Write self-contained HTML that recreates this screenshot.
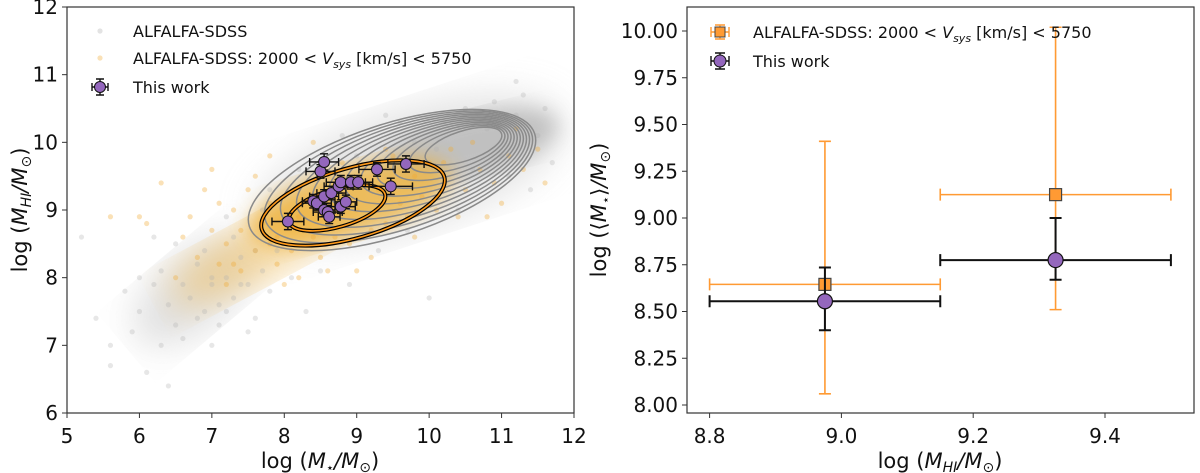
<!DOCTYPE html>
<html><head><meta charset="utf-8"><style>
body{margin:0;background:#fff}
svg{display:block;font-family:"DejaVu Sans","Liberation Sans",sans-serif}
</style></head><body>
<svg id="c" width="1200" height="473" viewBox="0 0 1200 473"></svg>
<script>
const NS="http://www.w3.org/2000/svg";
// ---- left panel data ----
const grayX=[5.2,5.4,5.6,5.8,5.9,6.0,6.1,6.2,6.3,6.4,6.5,6.6,6.7,6.8,6.9,7.0,7.1,7.2,7.3,7.4,6.6,6.9,7.1,7.3,7.5,7.6,7.7,7.8,6.8,7.0,7.2,7.4,6.3,6.5,7.6,7.9,8.1,8.3,8.5,8.9,9.3,9.7,10.1,10.5,10.9,11.2,11.5,11.7,11.0,10.6,10.2,9.8,11.3,11.6,10.8,11.1,7.0,7.5,6.0,8.8,9.6,10.4,11.4,5.6,7.8,8.2,6.4,9.0,8.0,7.2,6.2,7.7,10.0,11.2,9.4];
const grayY=[8.6,7.4,7.0,7.8,7.2,7.5,6.6,7.9,8.1,7.6,7.3,7.9,7.7,8.2,7.5,7.9,7.6,8.0,7.7,8.3,7.1,8.4,7.3,8.6,7.9,8.4,8.1,7.8,7.4,8.0,7.5,7.9,7.0,8.5,7.4,8.4,8.0,7.5,8.1,7.9,8.4,8.7,9.9,10.5,10.6,10.4,10.1,9.7,9.8,9.6,10.3,10.0,10.7,10.5,10.2,9.5,7.0,7.2,8.0,10.1,10.3,9.0,9.3,6.7,9.3,9.6,6.4,9.8,8.8,8.9,8.6,9.0,7.7,10.9,10.4];
const orangeX=[6.7,6.9,7.0,7.1,7.2,7.3,7.4,7.5,7.6,7.7,7.8,7.9,8.0,8.1,8.2,8.3,8.4,8.5,8.6,8.7,8.8,8.9,9.0,9.1,9.2,9.3,9.4,9.5,9.6,9.7,9.8,9.9,10.0,10.1,10.2,10.3,10.5,10.7,10.9,11.1,11.3,11.5,11.6,6.5,6.8,7.2,7.4,7.0,7.6,8.0,8.6,9.2,9.8,10.4,11.0,6.3,6.1,7.8,8.4,9.4,10.6,11.2,7.1,7.9,8.7,9.5,10.2,6.0,5.6,9.0,8.2,10.8,6.6,7.3,7.8];
const orangeY=[8.9,9.3,8.7,9.1,8.5,9.0,8.7,9.3,8.4,8.8,9.1,8.6,9.2,8.4,8.9,9.4,8.6,8.3,9.5,8.6,9.7,8.5,9.0,9.6,8.7,9.3,8.8,9.8,9.1,8.9,9.5,9.2,9.7,9.0,9.4,9.9,9.3,9.6,9.4,9.8,9.6,9.9,9.4,8.0,8.3,7.9,8.1,9.6,9.5,7.9,8.1,8.3,8.6,8.9,9.1,9.4,8.8,9.8,10.0,9.9,10.0,10.2,8.2,8.2,9.1,9.4,9.7,8.9,8.9,8.1,8.0,8.9,8.6,8.2,8.5];
const workX=[8.05,8.5,8.55,8.4,8.45,8.55,8.65,8.55,8.6,8.62,8.78,8.85,8.75,8.78,8.92,9.02,9.28,9.47,9.68];
const workY=[8.83,9.57,9.71,9.13,9.1,9.2,9.25,9.0,8.97,8.9,9.05,9.12,9.35,9.41,9.41,9.41,9.6,9.35,9.68];
const workXerr=[0.22,0.2,0.2,0.15,0.2,0.2,0.2,0.15,0.2,0.15,0.2,0.15,0.2,0.2,0.2,0.2,0.25,0.3,0.25];
const workYerr=[0.12,0.1,0.12,0.1,0.1,0.1,0.1,0.1,0.1,0.1,0.1,0.1,0.1,0.1,0.1,0.1,0.1,0.12,0.12];
const leftXTicks=[5,6,7,8,9,10,11,12];
const leftYTicks=[6,7,8,9,10,11,12];
// ---- right panel data ----
const binX=[8.975,9.325];
const binXlo=[8.8,9.15];
const binXhi=[9.15,9.5];
const alfY=[8.645,9.125];
const alfYlo=[8.06,8.51];
const alfYhi=[9.41,10.02];
const workBinY=[8.555,8.775];
const workBinYlo=[8.40,8.67];
const workBinYhi=[8.735,9.00];
const rightXTicks=[8.8,9.0,9.2,9.4];
const rightYTicks=[8.00,8.25,8.50,8.75,9.00,9.25,9.50,9.75,10.00];

const svg=document.getElementById('c');
function el(tag,attrs,parent,text){const e=document.createElementNS(NS,tag);for(const k in attrs)e.setAttribute(k,attrs[k]);if(text!==undefined)e.textContent=text;(parent||svg).appendChild(e);return e;}

const L={x0:67,x1:574,y0:413,y1:7,xmin:5,xmax:12,ymin:6,ymax:12};
const lx=v=>L.x0+(v-L.xmin)/(L.xmax-L.xmin)*(L.x1-L.x0);
const ly=v=>L.y0-(v-L.ymin)/(L.ymax-L.ymin)*(L.y0-L.y1);
const rx=v=>709.6+(v-8.8)/0.6*(1105-709.6);
const ry=v=>405-(v-8)/2*(405-31);

const gL=el('g',{});

el('defs',{},svg).innerHTML='<clipPath id="clipL"><rect x="67" y="7" width="507" height="406"/></clipPath><filter id="bl"><feGaussianBlur stdDeviation="10"/></filter><filter id="bl2"><feGaussianBlur stdDeviation="18"/></filter>';
const plotL=el('g',{'clip-path':'url(#clipL)'},gL);
// density haze (decorative)
el('ellipse',{cx:195,cy:290,rx:75,ry:38,fill:'#bbb',opacity:0.45,transform:'rotate(-40 195 290)',filter:'url(#bl2)'},plotL);
el('ellipse',{cx:410,cy:170,rx:160,ry:60,fill:'#ccc',opacity:0.55,transform:'rotate(-18 410 170)',filter:'url(#bl2)'},plotL);
el('ellipse',{cx:470,cy:145,rx:90,ry:30,fill:'#b8b8b8',opacity:0.8,transform:'rotate(-14 470 145)',filter:'url(#bl)'},plotL);
el('ellipse',{cx:260,cy:250,rx:100,ry:30,fill:'#f2c060',opacity:0.55,transform:'rotate(-28 260 250)',filter:'url(#bl2)'},plotL);
el('ellipse',{cx:350,cy:202,rx:105,ry:34,fill:'#f0b030',opacity:0.75,transform:'rotate(-16 350 202)',filter:'url(#bl)'},plotL);
const gs=el('g',{},plotL);
for(let i=0;i<grayX.length;i++){const c=el('circle',{cx:lx(grayX[i]),cy:ly(grayY[i]),r:2.6,fill:'#b0b0b0','fill-opacity':0.3},gs);}
const os=el('g',{},plotL);
for(let i=0;i<orangeX.length;i++){const c=el('circle',{cx:lx(orangeX[i]),cy:ly(orangeY[i]),r:2.6,fill:'#f0a830','fill-opacity':0.35},os);}
// gray contours (decorative)
const gc=el('g',{fill:'none',stroke:'#8a8a8a','stroke-width':1.5},plotL);
for(let k=0;k<12;k++){const t=k/12;const cx=392+(470-392)*t,cy=180+(143-180)*t,a=150*(1-t*0.8),b=56*(1-t*0.8);
 el('ellipse',{cx:cx,cy:cy,rx:a,ry:b,transform:`rotate(-18 ${cx} ${cy})`},gc);}
// orange contours
const oc=el('g',{fill:'none'},plotL);
[[353,203,95,35],[337,208,50,19]].forEach(p=>{
 el('ellipse',{cx:p[0],cy:p[1],rx:p[2],ry:p[3],transform:`rotate(-16 ${p[0]} ${p[1]})`,stroke:'#000','stroke-width':4},oc);
 el('ellipse',{cx:p[0],cy:p[1],rx:p[2],ry:p[3],transform:`rotate(-16 ${p[0]} ${p[1]})`,stroke:'#ff9a1a','stroke-width':1.6},oc);});
// this work
const tw=el('g',{},plotL);
for(let i=0;i<workX.length;i++){const x=lx(workX[i]),y=ly(workY[i]),xa=lx(workX[i]-workXerr[i]),xb=lx(workX[i]+workXerr[i]),ya=ly(workY[i]-workYerr[i]),yb=ly(workY[i]+workYerr[i]);
 el('path',{d:`M${xa} ${y}H${xb}M${x} ${ya}V${yb}M${xa} ${y-4}v8M${xb} ${y-4}v8M${x-4} ${ya}h8M${x-4} ${yb}h8`,stroke:'#111','stroke-width':1.4,fill:'none'},tw);}
for(let i=0;i<workX.length;i++){const c=el('circle',{cx:lx(workX[i]),cy:ly(workY[i]),r:5.5,fill:'#9467bd',stroke:'#111','stroke-width':1},tw);}
// frame + ticks
el('rect',{x:67,y:7,width:507,height:406,fill:'none',stroke:'#333','stroke-width':1.2},gL);
leftXTicks.forEach(v=>{el('line',{x1:lx(v),x2:lx(v),y1:413,y2:418,stroke:'#333'},gL);const t=el('text',{x:lx(v),y:443,'font-size':20,'text-anchor':'middle',fill:'#111'},gL,String(v));});
leftYTicks.forEach(v=>{el('line',{x1:62,x2:67,y1:ly(v),y2:ly(v),stroke:'#333'},gL);const t=el('text',{x:58,y:ly(v)+7,'font-size':20,'text-anchor':'end',fill:'#111'},gL,String(v));});
const xl=el('text',{x:320,y:468,'font-size':21,'text-anchor':'middle',fill:'#111'},gL);
xl.innerHTML='log (<tspan font-style="italic">M</tspan><tspan font-size="13" dy="4">⋆</tspan><tspan dy="-4" font-style="italic">/M</tspan><tspan font-size="14" dy="4">⊙</tspan><tspan dy="-4">)</tspan>';
const yl=el('text',{x:0,y:0,'font-size':21,'text-anchor':'middle',fill:'#111',transform:'translate(27 210) rotate(-90)'},gL);
yl.innerHTML='log (<tspan font-style="italic">M</tspan><tspan font-size="14" dy="4" font-style="italic">HI</tspan><tspan dy="-4" font-style="italic">/M</tspan><tspan font-size="14" dy="4">⊙</tspan><tspan dy="-4">)</tspan>';
// left legend
const lg=el('g',{'font-size':16,fill:'#111'},gL);
el('circle',{cx:100,cy:31,r:2.6,fill:'#b0b0b0','fill-opacity':0.35},lg);
el('text',{x:133,y:37},lg,'ALFALFA-SDSS');
el('circle',{cx:100,cy:58,r:2.6,fill:'#f0a830','fill-opacity':0.35},lg);
el('text',{x:133,y:64},lg).innerHTML='ALFALFA-SDSS: 2000 &lt; <tspan font-style="italic">V</tspan><tspan font-size="11" dy="4" font-style="italic">sys</tspan><tspan dy="-4"> [km/s] &lt; 5750</tspan>';
el('path',{d:'M92 87H108M100 79V95M92 83v8M108 83v8M96 79h8M96 95h8',stroke:'#111','stroke-width':1.4,fill:'none'},lg);
el('circle',{cx:100,cy:87,r:5.5,fill:'#9467bd',stroke:'#111'},lg);
el('text',{x:133,y:93},lg,'This work');

// Right panel
const gR=el('g',{});
const ao=el('g',{},gR);
for(let i=0;i<binX.length;i++){const x=rx(binX[i]),y=ry(alfY[i]),xa=rx(binXlo[i]),xb=rx(binXhi[i]),ya=ry(alfYlo[i]),yb=ry(alfYhi[i]);
 el('path',{d:`M${xa} ${y}H${xb}M${x} ${ya}V${yb}M${xa} ${y-6}v12M${xb} ${y-6}v12M${x-6} ${ya}h12M${x-6} ${yb}h12`,stroke:'#ff9a33','stroke-width':1.6,fill:'none'},ao);}
const bw=el('g',{},gR);
for(let i=0;i<binX.length;i++){const x=rx(binX[i]),y=ry(workBinY[i]),xa=rx(binXlo[i]),xb=rx(binXhi[i]),ya=ry(workBinYlo[i]),yb=ry(workBinYhi[i]);
 el('path',{d:`M${xa} ${y}H${xb}M${x} ${ya}V${yb}M${xa} ${y-6}v12M${xb} ${y-6}v12M${x-6} ${ya}h12M${x-6} ${yb}h12`,stroke:'#111','stroke-width':2,fill:'none'},bw);}
for(let i=0;i<binX.length;i++){const s=el('rect',{x:rx(binX[i])-6,y:ry(alfY[i])-6,width:12,height:12,fill:'#ff9a33',stroke:'#444','stroke-width':1.2},ao);
 const c=el('circle',{cx:rx(binX[i]),cy:ry(workBinY[i]),r:7.5,fill:'#9467bd',stroke:'#111','stroke-width':1.2},bw);}
el('rect',{x:687,y:7,width:507,height:406,fill:'none',stroke:'#333','stroke-width':1.2},gR);
rightXTicks.forEach(v=>{el('line',{x1:rx(v),x2:rx(v),y1:413,y2:418,stroke:'#333'},gR);const t=el('text',{x:rx(v),y:443,'font-size':20,'text-anchor':'middle',fill:'#111'},gR,v.toFixed(1));});
rightYTicks.forEach(v=>{el('line',{x1:682,x2:687,y1:ry(v),y2:ry(v),stroke:'#333'},gR);const t=el('text',{x:678,y:ry(v)+7,'font-size':20,'text-anchor':'end',fill:'#111'},gR,v.toFixed(2));});
const rxl=el('text',{x:940,y:468,'font-size':21,'text-anchor':'middle',fill:'#111'},gR);
rxl.innerHTML='log (<tspan font-style="italic">M</tspan><tspan font-size="14" dy="4" font-style="italic">HI</tspan><tspan dy="-4" font-style="italic">/M</tspan><tspan font-size="14" dy="4">⊙</tspan><tspan dy="-4">)</tspan>';
const ryl=el('text',{x:0,y:0,'font-size':21,'text-anchor':'middle',fill:'#111',transform:'translate(606 210) rotate(-90)'},gR);
ryl.innerHTML='log (⟨<tspan font-style="italic">M</tspan><tspan font-size="13" dy="4">⋆</tspan><tspan dy="-4">⟩</tspan><tspan font-style="italic">/M</tspan><tspan font-size="14" dy="4">⊙</tspan><tspan dy="-4">)</tspan>';
const rlg=el('g',{'font-size':16,fill:'#111'},gR);
el('path',{d:'M711 32H729M720 25V39M711 27v10M729 27v10M715 25h10M715 39h10',stroke:'#ff9a33','stroke-width':1.4,fill:'none'},rlg);
el('rect',{x:715,y:27,width:10,height:10,fill:'#ff9a33',stroke:'#444'},rlg);
el('text',{x:753,y:38},rlg).innerHTML='ALFALFA-SDSS: 2000 &lt; <tspan font-style="italic">V</tspan><tspan font-size="11" dy="4" font-style="italic">sys</tspan><tspan dy="-4"> [km/s] &lt; 5750</tspan>';
el('path',{d:'M711 61H729M720 53V69M711 56v10M729 56v10M715 53h10M715 69h10',stroke:'#111','stroke-width':1.4,fill:'none'},rlg);
el('circle',{cx:720,cy:61,r:6,fill:'#9467bd',stroke:'#111'},rlg);
el('text',{x:753,y:67},rlg,'This work');
</script>
</body></html>
